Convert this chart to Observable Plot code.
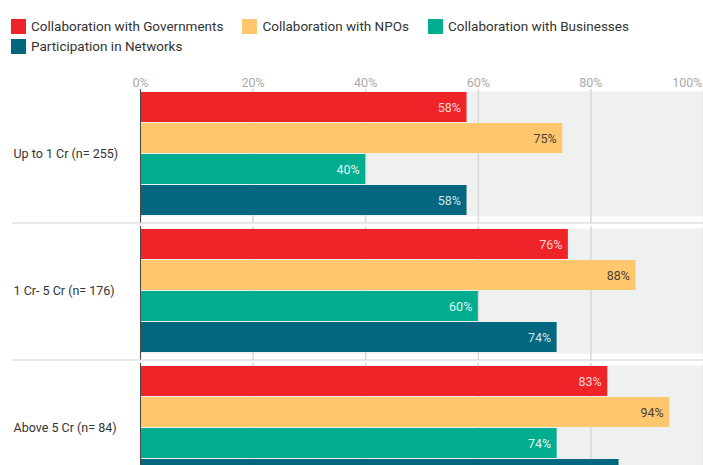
<!DOCTYPE html>
<html><head><meta charset="utf-8">
<script src="https://cdn.jsdelivr.net/npm/d3@7"></script>
<script src="https://cdn.jsdelivr.net/npm/@observablehq/plot@0.6"></script>
<style>
body{margin:0;background:#fff;font-family:Roboto,sans-serif;}
#legend{display:flex;flex-wrap:wrap;align-content:flex-start;height:40px;padding:16px 0 0 11px;width:692px;}
.item{display:flex;align-items:center;height:20px;margin-right:19px;font-size:13.5px;color:#333;white-space:nowrap}
.sw{width:15px;height:15px;margin-right:5px;flex:none}
#chart svg{display:block}
</style></head>
<body><div id="legend"></div><div id="chart"></div>
<script>
const groups = ["Up to 1 Cr (n= 255)", "1 Cr- 5 Cr (n= 176)", "Above 5 Cr (n= 84)"];
const series = ["Collaboration with Governments", "Collaboration with NPOs", "Collaboration with Businesses", "Participation in Networks"];
const governments = [58, 76, 83];
const npos = [75, 88, 94];
const businesses = [40, 60, 74];
const networks = [58, 74, 85];
const tickValues = [0, 20, 40, 60, 80, 100];

const colors = ["#ee2428", "#fec66d", "#00ad8e", "#02677f"];
const labelColors = ["#ffd6d6", "#4a4239", "#e3f6f0", "#d2e6ea"];
const values = [governments, npos, businesses, networks];

const data = groups.flatMap((g, gi) => series.map((s, si) => ({group: g, series: s, value: values[si][gi]})));

const legend = document.getElementById("legend");
series.forEach((s, i) => {
  const it = document.createElement("div");
  it.className = "item";
  it.innerHTML = `<span class="sw" style="background:${colors[i]}"></span><span>${s}</span>`;
  legend.appendChild(it);
});

const labelMarks = series.map((s, i) => Plot.text(data, {
  filter: d => d.series === s,
  fy: "group", y: "series", x: "value",
  text: d => d.value + "%",
  textAnchor: "end", dx: -6, fill: labelColors[i], fontSize: 12.5
}));

const chart = Plot.plot({
  width: 703, height: 445,
  marginTop: 34, marginLeft: 140, marginRight: 0, marginBottom: 10,
  style: {fontFamily: "Roboto, sans-serif", background: "transparent"},
  x: {domain: [0, 100], axis: null},
  y: {domain: series, padding: 0.03, axis: null},
  fy: {domain: groups, paddingInner: 0.09, paddingOuter: 0, axis: null},
  color: {domain: series, range: colors},
  marks: [
    Plot.frame({fill: "#eff0f0", stroke: "none"}),
    Plot.ruleX(tickValues, {stroke: "#d8d8d8", strokeWidth: 1.5, insetTop: -2, insetBottom: -7}),
    Plot.barX(data, {fy: "group", y: "series", x: "value", fill: "series"}),
    Plot.ruleX([0], {stroke: "#4a4a4a", strokeWidth: 1, insetTop: -2, insetBottom: -7}),
    ...labelMarks,
    Plot.text(groups, {fy: d => d, text: d => d, frameAnchor: "left", textAnchor: "start", dx: -127, fontSize: 12.5, fill: "#333"}),
    Plot.text(tickValues.slice(0, -1), {fy: () => groups[0], x: d => d, text: d => d + "%", frameAnchor: "top", dy: -13.5, fill: "#aaa", fontSize: 12.5}),
    Plot.text(tickValues.slice(-1), {fy: () => groups[0], x: d => d, text: d => d + "%", frameAnchor: "top", dy: -13.5, textAnchor: "end", dx: -1, fill: "#aaa", fontSize: 12.5}),
    Plot.frame({anchor: "bottom", dy: 6.5, insetLeft: -128, stroke: "#cfcfcf", strokeDasharray: "2,1"})
  ]
});
document.getElementById("chart").appendChild(chart);
</script>
</body></html>
